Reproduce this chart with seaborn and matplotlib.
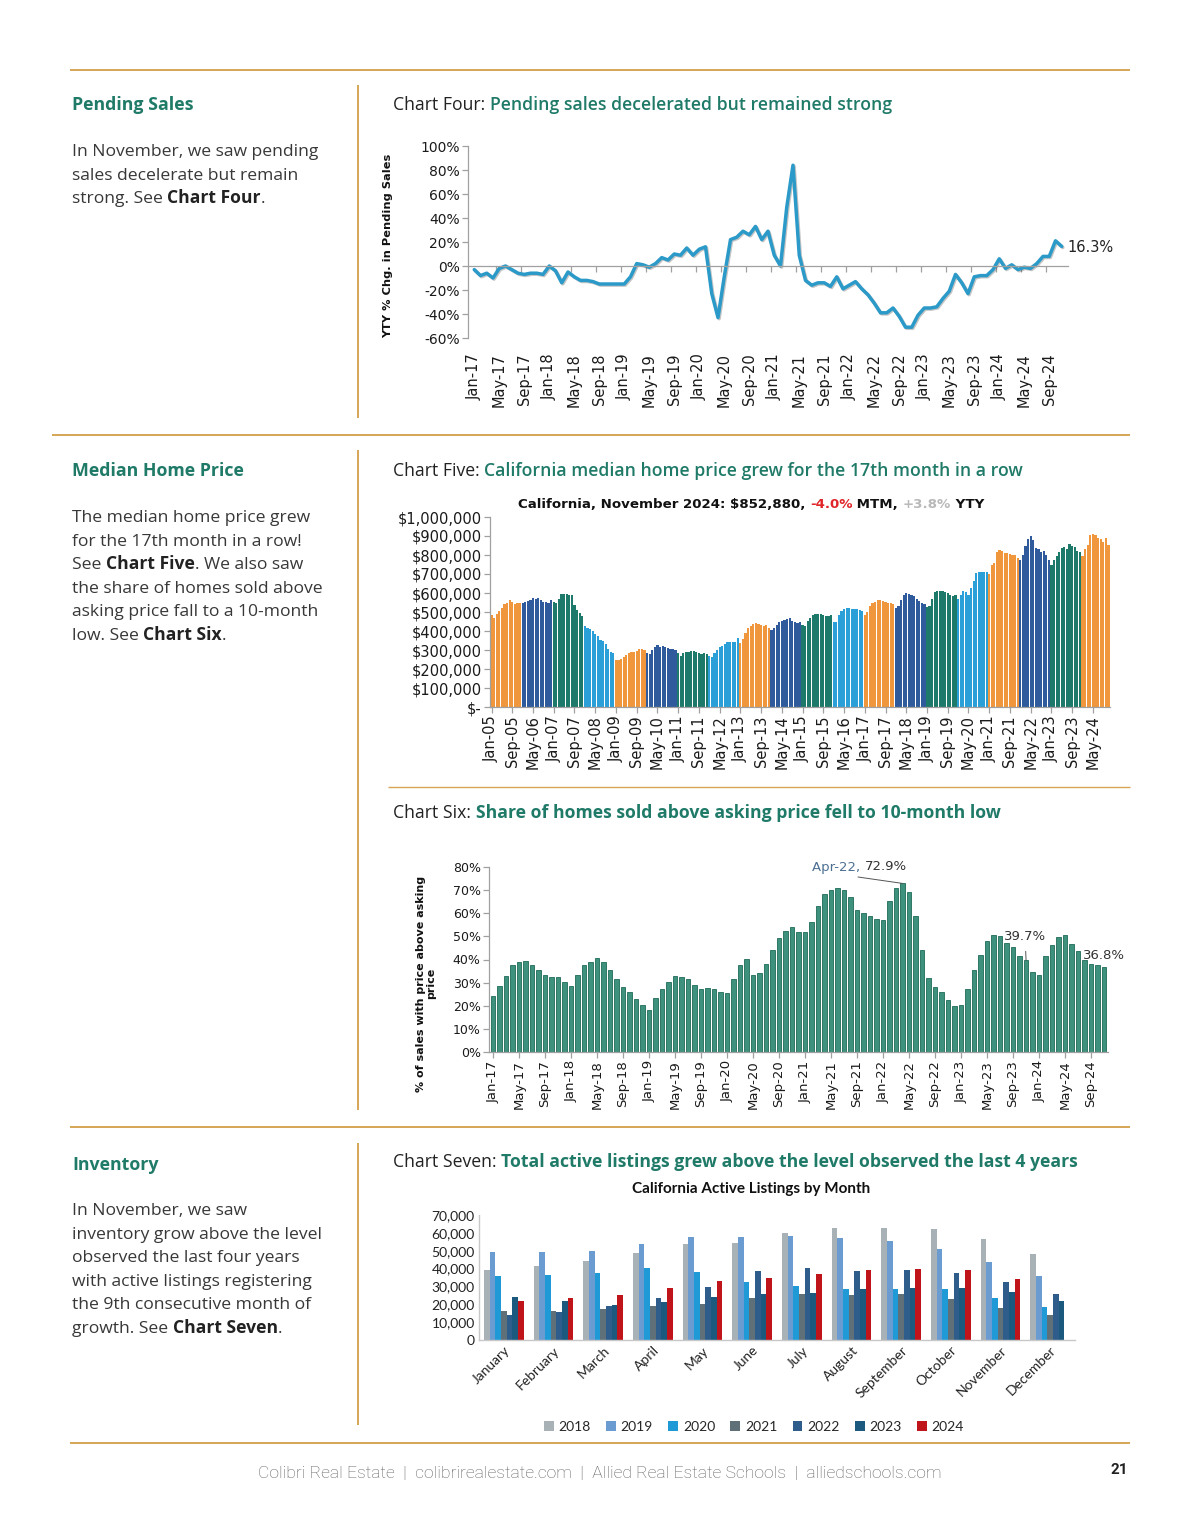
import numpy as np
import pandas as pd
import matplotlib
matplotlib.use('Agg')
import matplotlib.pyplot as plt
import matplotlib.patheffects as pe
import seaborn as sns

# ---------------- data ----------------
# Chart Four: YTY % change in pending sales, Jan-17 .. Nov-24
pending_months = pd.date_range('2017-01-01', '2024-11-01', freq='MS').strftime('%b-%y').tolist()
pending_yty = [
    -3, -8, -6, -10, -2, 0, -3, -6, -7, -6, -6, -7,          # 2017
    0, -4, -14, -5, -9, -12, -12, -13, -15, -15, -15, -15,   # 2018
    -15, -9, 2, 1, -1, 2, 7, 5, 10, 9, 15, 9,                # 2019
    14, 16, -23, -43, -9, 22, 24, 29, 26, 33, 22, 29,        # 2020
    9, 0, 49, 84, 9, -12, -16, -14, -14, -17, -9, -19,       # 2021
    -16, -13, -19, -24, -31, -39, -39, -35, -42, -51, -51, -41,  # 2022
    -35, -35, -34, -27, -21, -7, -14, -23, -9, -8, -8, -3,   # 2023
    6, -2, 1, -3, -1, -2, 2, 8, 8, 21, 16.3,                 # 2024
]

# Chart Five: California median home price ($ thousands), Jan-05 .. Nov-24
price_months = pd.date_range('2005-01-01', '2024-11-01', freq='MS').strftime('%b-%y').tolist()
median_price_k = [
    485, 470, 490, 505, 520, 540, 550, 562, 555, 540, 545, 548,   # 2005
    548, 555, 560, 565, 575, 570, 575, 565, 555, 555, 550, 565,   # 2006
    555, 550, 570, 595, 597, 594, 590, 590, 538, 510, 495, 480,   # 2007
    425, 418, 410, 400, 385, 372, 355, 350, 330, 305, 290, 282,   # 2008
    248, 245, 252, 262, 272, 282, 288, 292, 297, 303, 303, 298,   # 2009
    285, 280, 300, 315, 325, 318, 320, 318, 310, 305, 305, 300,   # 2010
    285, 270, 285, 290, 292, 294, 293, 292, 285, 280, 283, 278,   # 2011
    270, 265, 285, 300, 315, 320, 333, 340, 340, 340, 342, 365,   # 2012
    335, 360, 390, 415, 425, 435, 440, 437, 430, 428, 432, 418,   # 2013
    405, 415, 430, 450, 455, 460, 465, 470, 455, 450, 440, 445,   # 2014
    430, 428, 455, 470, 485, 490, 492, 490, 485, 478, 480, 485,   # 2015
    445, 450, 485, 505, 515, 520, 522, 518, 518, 515, 510, 505,   # 2016
    485, 498, 530, 545, 555, 565, 562, 560, 555, 550, 545, 540,   # 2017
    520, 530, 565, 590, 600, 595, 590, 585, 570, 560, 550, 540,   # 2018
    525, 530, 570, 605, 610, 612, 610, 605, 600, 590, 585, 590,   # 2019
    570, 590, 610, 605, 590, 625, 665, 705, 712, 712, 710, 712,   # 2020
    700, 745, 760, 815, 828, 820, 812, 808, 805, 798, 799, 786,   # 2021
    772, 798, 850, 885, 900, 880, 835, 830, 818, 820, 798, 775,   # 2022
    745, 775, 795, 815, 835, 840, 832, 860, 845, 842, 822, 815,   # 2023
    795, 830, 855, 905, 908, 906, 891, 886, 870, 888, 853,        # 2024
]
price_years = [str(y) for y in range(2005, 2025)]
ORANGE, DBLUE, GREEN, LBLUE = '#f0963c', '#2f5b9c', '#1d7a6a', '#2a9fd8'
year_colors = [ORANGE, DBLUE, GREEN, LBLUE] * 4 + [ORANGE, DBLUE, GREEN, ORANGE]

# Chart Six: share of sales above asking price (%), Jan-17 .. Nov-24
above_ask_months = pd.date_range('2017-01-01', '2024-11-01', freq='MS').strftime('%b-%y').tolist()
above_ask_share = [
    24.1, 28.4, 33.0, 37.5, 38.9, 39.2, 37.8, 35.3, 33.1, 32.3, 32.3, 30.3,   # 2017
    28.4, 33.1, 37.5, 38.8, 40.5, 38.9, 35.3, 31.6, 28.1, 25.8, 23.1, 20.3,   # 2018
    18.3, 23.5, 27.1, 30.3, 33.0, 32.6, 31.4, 28.8, 27.4, 27.7, 27.2, 26.1,   # 2019
    25.6, 31.6, 37.6, 40.1, 33.4, 34.1, 38.2, 43.9, 49.3, 52.2, 54.0, 51.7,   # 2020
    51.9, 56.2, 63.3, 68.3, 70.2, 71.0, 70.2, 66.9, 61.5, 60.1, 58.9, 57.6,   # 2021
    56.9, 65.1, 70.9, 72.9, 69.2, 58.6, 44.2, 32.0, 28.1, 25.8, 22.6, 19.7,   # 2022
    20.2, 27.2, 35.3, 41.8, 47.8, 50.7, 50.0, 47.1, 45.2, 41.6, 39.7, 34.5,   # 2023
    33.5, 41.6, 46.4, 49.6, 50.4, 46.8, 43.5, 39.9, 38.2, 37.8, 36.8,         # 2024
]

# Chart Seven: California active listings by month
month_names = ['January', 'February', 'March', 'April', 'May', 'June', 'July',
               'August', 'September', 'October', 'November', 'December']
listings_2018 = [39200, 41400, 44400, 48700, 53600, 54100, 59700, 62900, 62900, 62300, 56400, 48000]
listings_2019 = [49100, 49100, 50000, 53800, 57900, 57900, 58400, 57300, 55600, 51000, 43500, 35800]
listings_2020 = [36000, 36400, 37300, 40100, 37900, 32700, 30200, 28600, 28600, 28600, 23300, 18700]
listings_2021 = [16400, 16400, 17400, 19000, 20000, 23300, 25800, 25200, 25800, 23000, 18100, 14200]
listings_2022 = [14000, 15900, 19000, 23700, 29900, 38800, 40100, 38800, 39200, 37300, 32300, 25800]
listings_2023 = [23900, 21800, 19600, 21500, 23900, 25600, 26100, 28400, 28900, 29300, 26700, 21800]
listings_2024 = [21800, 23700, 25200, 28900, 33000, 34900, 36800, 39200, 39800, 39200, 34300]
listing_years = ['2018', '2019', '2020', '2021', '2022', '2023', '2024']
listing_colors = ['#a7b1b6', '#6a9bd1', '#1f9ad6', '#5f7079', '#2e5d8c', '#1b5a7e', '#c0141b']

# ---------------- page ----------------
W, H = 1200, 1535
sns.set_theme(style='white')
plt.rcParams['font.family'] = ['DejaVu Sans']

TEAL = '#1f7a68'
INK = '#383838'
RULE = '#d6a556'
AXIS_GRAY = '#a0a0a0'
PAGE_FONT = 'Open Sans'

fig = plt.figure(figsize=(W / 100, H / 100), dpi=100)
page = fig.add_axes([0, 0, 1, 1])
page.set_xlim(0, W)
page.set_ylim(H, 0)
page.axis('off')


def px_axes(left, top, right, bottom):
    ax = fig.add_axes([left / W, 1 - bottom / H, (right - left) / W, (bottom - top) / H])
    ax.set_facecolor('none')
    return ax


def rich_text(x, y, parts, size, family=PAGE_FONT):
    t = None
    for s, color, weight in parts:
        kw = dict(fontsize=size, color=color, fontweight=weight, family=family)
        if t is None:
            t = page.text(x, y, s, ha='left', va='center', **kw)
        else:
            t = page.annotate(s, xy=(1, 0), xycoords=t, ha='left', va='bottom', **kw)
    return t


# rules
for y, x0, x1, lw in [(70, 70, 1130, 1.4), (435, 52, 1130, 1.4), (787, 388, 1130, 1.0),
                      (1127, 70, 1130, 1.4), (1443, 70, 1130, 1.4)]:
    page.plot([x0, x1], [y, y], color=RULE, lw=lw, solid_capstyle='butt')
for y0, y1 in [(85, 418), (450, 1110), (1143, 1425)]:
    page.plot([358, 358], [y0, y1], color=RULE, lw=1.4, solid_capstyle='butt')

# left column text
BODY = 12.6
LINE = 23.6
HEAD = 12.8
rich_text(72, 105, [('Pending Sales', TEAL, 'bold')], HEAD)
pending_text = [
    [('In November, we saw pending', INK, 'normal')],
    [('sales decelerate but remain', INK, 'normal')],
    [('strong. See ', INK, 'normal'), ('Chart Four', '#222', 'bold'), ('.', INK, 'normal')],
]
for i, parts in enumerate(pending_text):
    rich_text(72, 152 + i * LINE, parts, BODY)

rich_text(72, 471, [('Median Home Price', TEAL, 'bold')], HEAD)
price_text = [
    [('The median home price grew', INK, 'normal')],
    [('for the 17th month in a row!', INK, 'normal')],
    [('See ', INK, 'normal'), ('Chart Five', '#222', 'bold'), ('. We also saw', INK, 'normal')],
    [('the share of homes sold above', INK, 'normal')],
    [('asking price fall to a 10-month', INK, 'normal')],
    [('low. See ', INK, 'normal'), ('Chart Six', '#222', 'bold'), ('.', INK, 'normal')],
]
for i, parts in enumerate(price_text):
    rich_text(72, 518 + i * LINE, parts, BODY)

rich_text(72, 1165, [('Inventory', TEAL, 'bold')], HEAD)
inventory_text = [
    [('In November, we saw', INK, 'normal')],
    [('inventory grow above the level', INK, 'normal')],
    [('observed the last four years', INK, 'normal')],
    [('with active listings registering', INK, 'normal')],
    [('the 9th consecutive month of', INK, 'normal')],
    [('growth. See ', INK, 'normal'), ('Chart Seven', '#222', 'bold'), ('.', INK, 'normal')],
]
for i, parts in enumerate(inventory_text):
    rich_text(72, 1211 + i * LINE, parts, BODY)

# chart titles
TITLE = 12.7
rich_text(393, 105, [('Chart Four: ', '#222', 'normal'),
                     ('Pending sales decelerated but remained strong', TEAL, 'semibold')], TITLE)
rich_text(393, 471, [('Chart Five: ', '#222', 'normal'),
                     ('California median home price grew for the 17th month in a row', TEAL, 'semibold')], TITLE)
rich_text(393, 813, [('Chart Six: ', '#222', 'normal'),
                     ('Share of homes sold above asking price fell to 10-month low', TEAL, 'bold')], TITLE)
rich_text(393, 1162, [('Chart Seven: ', '#222', 'normal'),
                      ('Total active listings grew above the level observed the last 4 years', TEAL, 'bold')], TITLE)

# footer
page.text(600, 1474, 'Colibri Real Estate  |  colibrirealestate.com  |  Allied Real Estate Schools  |  alliedschools.com',
          ha='center', va='center', color='#5e5e5e', family='Roboto', fontsize=12.6, fontweight='light')
page.text(1119, 1470, '21', ha='center', va='center', color='#222', family='Roboto', fontsize=11, fontweight='bold')


def style_axis(ax):
    for side in ['top', 'right']:
        ax.spines[side].set_visible(False)
    for side in ['left', 'bottom']:
        ax.spines[side].set_color(AXIS_GRAY)
        ax.spines[side].set_linewidth(0.9)
    ax.tick_params(axis='both', left=True, bottom=True, length=4, width=0.9, color=AXIS_GRAY,
                   labelcolor='#1a1a1a', pad=2)


# ---------------- Chart Four ----------------
ax4 = px_axes(468, 146, 1068, 338)
sns.lineplot(x=np.arange(len(pending_yty)), y=pending_yty, ax=ax4, color='#2b9ac8', linewidth=2.5,
             path_effects=[pe.SimpleLineShadow(offset=(0.8, -0.8), alpha=0.25), pe.Normal()])
style_axis(ax4)
ax4.set_xlim(-1, 95)
ax4.set_ylim(-60, 100)
ax4.set_yticks(range(-60, 101, 20))
ax4.set_yticklabels([f'{v}%' for v in range(-60, 101, 20)], fontsize=10)
ax4.spines['bottom'].set_position(('data', 0))
ax4.set_xticks(np.arange(3.5, 95, 4))
ax4.tick_params(axis='x', labelbottom=False)
sec4 = ax4.secondary_xaxis('bottom')
sec4.set_xticks(range(0, 95, 4), labels=[pending_months[i] for i in range(0, 95, 4)])
sec4.tick_params(axis='x', length=0, rotation=90, labelsize=10.5, pad=11, labelcolor='#1a1a1a')
sec4.spines['bottom'].set_visible(False)
ax4.set_xlabel('')
ax4.set_ylabel('YTY % Chg. in Pending Sales', fontsize=8.2, fontweight='bold', color='#111')
ax4.yaxis.set_label_coords(-0.125, 0.48)
ax4.annotate('16.3%', xy=(94, 16.3), xytext=(4, -1), textcoords='offset points',
             ha='left', va='center', fontsize=10.5, color='#222')

# ---------------- Chart Five ----------------
ax5 = px_axes(490, 517, 1110, 707)
df5 = pd.DataFrame({'month': price_months,
                    'price': np.array(median_price_k) * 1000,
                    'year': ['20' + m[-2:] for m in price_months]})
sns.barplot(data=df5, x='month', y='price', hue='year', palette=dict(zip(price_years, year_colors)),
            dodge=False, width=0.85, saturation=1, linewidth=0, legend=False, ax=ax5)
style_axis(ax5)
ax5.set_xlim(-0.6, len(price_months) - 0.4)
ax5.set_ylim(0, 1_000_000)
yt5 = list(range(0, 1_000_001, 100_000))
ax5.set_yticks(yt5)
ax5.set_yticklabels(['$-' if v == 0 else f'${v:,}' for v in yt5], fontsize=10.5)
ax5.set_xticks(range(0, len(price_months), 8))
ax5.set_xticklabels([price_months[i] for i in range(0, len(price_months), 8)], rotation=90, fontsize=10.5)
ax5.set_xlabel('')
ax5.set_ylabel('')
rich_text(518, 504, [('California, November 2024: $852,880, ', '#111', 'bold'), ('-4.0%', '#e0262b', 'bold'),
                     (' MTM, ', '#111', 'bold'), ('+3.8%', '#b9b9b9', 'bold'), (' YTY', '#111', 'bold')],
          9.6, family='DejaVu Sans')

# ---------------- Chart Six ----------------
ax6 = px_axes(489, 867, 1108, 1052)
sns.barplot(x=above_ask_months, y=above_ask_share, color='#3e927d', saturation=1, width=0.7,
            edgecolor='#1d6a57', linewidth=0.6, ax=ax6)
style_axis(ax6)
ax6.set_xlim(-0.6, len(above_ask_months) - 0.4)
ax6.set_ylim(0, 80)
ax6.set_yticks(range(0, 81, 10))
ax6.set_yticklabels([f'{v}%' for v in range(0, 81, 10)], fontsize=9)
ax6.set_xticks(range(0, len(above_ask_months), 4))
ax6.set_xticklabels([above_ask_months[i] for i in range(0, len(above_ask_months), 4)], rotation=90, fontsize=9.5)
ax6.set_ylabel('% of sales with price above asking\nprice', fontsize=8, fontweight='bold', color='#111',
               linespacing=1.1)
ax6.yaxis.set_label_coords(-0.085, 0.37)
peak = above_ask_months.index('Apr-22')
ax6.annotate('', xy=(peak, above_ask_share[peak]), xytext=(858, 877), textcoords=page.transData,
             arrowprops=dict(arrowstyle='-', color='#555', lw=0.7, shrinkA=0, shrinkB=0))
t6 = ax6.annotate('Apr-22, ', xy=(812, 867), xycoords=page.transData, ha='left', va='center',
                  fontsize=9.5, color='#4c6f92')
ax6.annotate('72.9%', xy=(1, 0), xycoords=t6, ha='left', va='bottom', fontsize=9.5, color='#333')
nov23 = above_ask_months.index('Nov-23')
ax6.annotate('39.7%', xy=(nov23, above_ask_share[nov23]), xytext=(1025, 936), textcoords=page.transData,
             ha='center', va='center', fontsize=9.5, color='#333',
             arrowprops=dict(arrowstyle='-', color='#555', lw=0.7, shrinkA=4, shrinkB=0))
ax6.annotate('36.8%', xy=(len(above_ask_share) - 1, above_ask_share[-1]), xytext=(-15, 8),
             textcoords='offset points', ha='left', va='center', fontsize=9.5, color='#333')

# ---------------- Chart Seven ----------------
ax7 = px_axes(479, 1215, 1075, 1340)
listing_values = [listings_2018, listings_2019, listings_2020, listings_2021,
                  listings_2022, listings_2023, listings_2024]
rows = []
for yr, vals in zip(listing_years, listing_values):
    for m, v in zip(month_names, vals):
        rows.append({'month': m, 'year': yr, 'listings': v})
df7 = pd.DataFrame(rows)
sns.barplot(data=df7, x='month', y='listings', hue='year', order=month_names, hue_order=listing_years,
            palette=dict(zip(listing_years, listing_colors)), saturation=1, width=0.8, linewidth=0, ax=ax7)
for side in ['top', 'right']:
    ax7.spines[side].set_visible(False)
for side in ['left', 'bottom']:
    ax7.spines[side].set_color('#c8c8c8')
    ax7.spines[side].set_linewidth(1.0)
ax7.tick_params(axis='both', length=0, pad=3, labelcolor='#222')
ax7.set_ylim(0, 70000)
ax7.set_yticks(range(0, 70001, 10000))
ax7.set_yticklabels([f'{v:,}' for v in range(0, 70001, 10000)], fontsize=10, family='Lato')
ax7.set_xticks(range(12))
ax7.set_xticklabels(month_names, rotation=45, ha='right', rotation_mode='anchor', fontsize=10, family='Lato')
ax7.set_xlabel('')
ax7.set_ylabel('')
page.text(751, 1189, 'California Active Listings by Month', ha='center', va='center',
          fontweight='bold', family='Lato', fontsize=11, color='#111')
sns.move_legend(ax7, 'center', bbox_to_anchor=(754 / W, 1 - 1427 / H), bbox_transform=fig.transFigure,
                ncol=7, frameon=False, title=None, prop={'family': 'Lato', 'size': 10},
                handlelength=0.7, handleheight=0.7, columnspacing=1.1, handletextpad=0.35)

fig.savefig('out.png', dpi=100)
